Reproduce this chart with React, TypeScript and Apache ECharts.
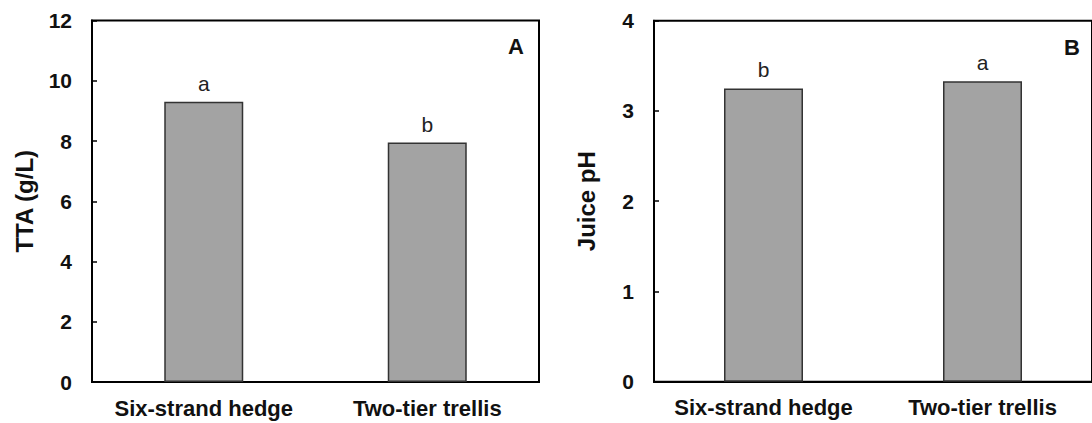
import React, { useEffect, useRef } from "react";
import * as echarts from "echarts";

const categories = ["Six-strand hedge", "Two-tier trellis"];
const ttaValues = [9.3, 7.95];
const ttaLetters = ["a", "b"];
const phValues = [3.25, 3.33];
const phLetters = ["b", "a"];
const ttaAxis = { min: 0, max: 12, interval: 2, name: "TTA (g/L)" };
const phAxis = { min: 0, max: 4, interval: 1, name: "Juice pH" };
const panelLetters = ["A", "B"];

const FONT = "'Liberation Sans', Arial, Helvetica, sans-serif";

export default function App() {
  const ref = useRef<HTMLDivElement>(null);
  useEffect(() => {
    if (!ref.current) return;
    const chart = echarts.init(ref.current, undefined, { renderer: "svg" });
    const mkX = (gridIndex: number) => ({
      type: "category",
      gridIndex,
      data: categories,
      axisLine: { show: true, lineStyle: { color: "#000", width: 2 } },
      axisTick: { show: false },
      axisLabel: {
        interval: 0,
        fontFamily: FONT,
        fontWeight: "bold",
        fontSize: 22,
        color: "#111",
        margin: 15,
      },
    });
    const mkY = (gridIndex: number, ax: any) => ({
      type: "value",
      gridIndex,
      min: ax.min,
      max: ax.max,
      interval: ax.interval,
      name: ax.name,
      nameLocation: "middle",
      nameGap: 56,
      nameRotate: 90,
      nameTextStyle: {
        fontFamily: FONT,
        fontWeight: "bold",
        fontSize: 24,
        color: "#111",
      },
      splitLine: { show: false },
      axisLine: { show: true, lineStyle: { color: "#000", width: 2 } },
      axisTick: { show: true, inside: true, length: 5, lineStyle: { color: "#000", width: 1.5 } },
      axisLabel: {
        fontFamily: FONT,
        fontWeight: "bold",
        fontSize: 21,
        color: "#111",
        margin: 20,
      },
    });
    const mkSeries = (idx: number, values: number[], letters: string[]) => ({
      type: "bar",
      xAxisIndex: idx,
      yAxisIndex: idx,
      data: values,
      barWidth: 79,
      itemStyle: { color: "#a3a3a3", borderColor: "#333", borderWidth: 1.5 },
      label: {
        show: true,
        position: "top",
        distance: 8,
        formatter: (p: any) => letters[p.dataIndex],
        fontFamily: FONT,
        fontSize: 21,
        color: "#222",
      },
    });
    chart.setOption({
      animation: false,
      backgroundColor: "#fff",
      grid: [
        { left: 92, top: 20.5, width: 447, height: 361.5, show: true, borderColor: "#000", borderWidth: 2, backgroundColor: "transparent" },
        { left: 654, top: 20.7, width: 447, height: 361, show: true, borderColor: "#000", borderWidth: 2, backgroundColor: "transparent" },
      ],
      xAxis: [mkX(0), mkX(1)],
      yAxis: [mkY(0, ttaAxis), mkY(1, phAxis)],
      series: [mkSeries(0, ttaValues, ttaLetters), mkSeries(1, phValues, phLetters)],
      graphic: [
        {
          type: "text",
          x: 516,
          y: 46,
          style: { text: panelLetters[0], fontFamily: FONT, fontWeight: "bold", fontSize: 22, fill: "#111", align: "center", verticalAlign: "middle" },
        },
        {
          type: "text",
          x: 1072,
          y: 47,
          style: { text: panelLetters[1], fontFamily: FONT, fontWeight: "bold", fontSize: 22, fill: "#111", align: "center", verticalAlign: "middle" },
        },
      ],
    });
    return () => chart.dispose();
  }, []);
  return (
    <div
      ref={ref}
      style={{ position: "fixed", left: 0, top: 0, width: 1092, height: 423 }}
    />
  );
}
